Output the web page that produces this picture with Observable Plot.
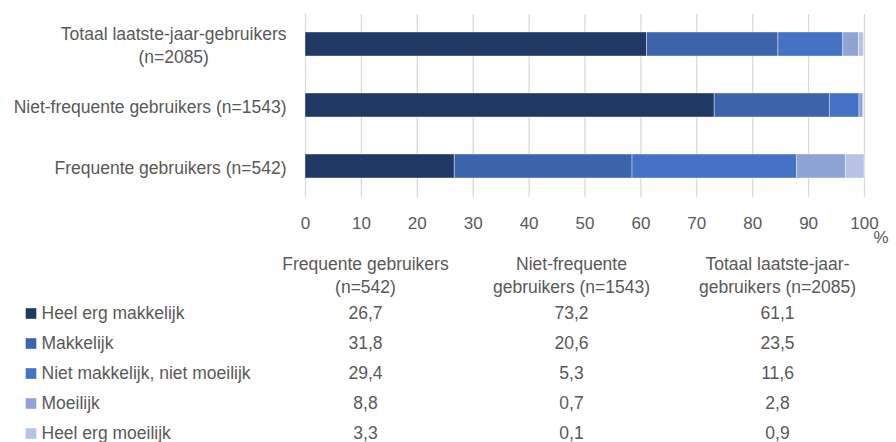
<!DOCTYPE html>
<html><head><meta charset="utf-8">
<script src="https://cdn.jsdelivr.net/npm/d3@7"></script>
<script src="https://cdn.jsdelivr.net/npm/@observablehq/plot@0.6"></script>
<style>
body{margin:0;background:#fff;font-family:"Liberation Sans",Arial,sans-serif;}
#chart svg,#table svg{display:block;}
</style></head><body>
<div id="chart"></div><div id="table"></div>
<script>
const categories = ["Heel erg makkelijk","Makkelijk","Niet makkelijk, niet moeilijk","Moeilijk","Heel erg moeilijk"];
const colors = ["#203864","#3b64ad","#4472c4","#8fa4d4","#b7c3e4"];
const chartLabels = ["Frequente gebruikers (n=542)","Niet-frequente gebruikers (n=1543)","Totaal laatste-jaar-gebruikers\n(n=2085)"];
const tableHeaders = ["Frequente gebruikers\n(n=542)","Niet-frequente\ngebruikers (n=1543)","Totaal laatste-jaar-\ngebruikers (n=2085)"];
const frequente = [26.7,31.8,29.4,8.8,3.3];
const nietFrequente = [73.2,20.6,5.3,0.7,0.1];
const totaal = [61.1,23.5,11.6,2.8,0.9];
const xTicks = [0,10,20,30,40,50,60,70,80,90,100];
const unitLabel = "%";

const series = [frequente, nietFrequente, totaal];
const rows = [];
series.forEach((vals, i) => vals.forEach((v, j) => rows.push({
  group: chartLabels[i], header: tableHeaders[i], category: categories[j], value: v
})));
const fmt = v => v.toFixed(1).replace(".", ",");
const textColor = "#595959";
const font = '"Liberation Sans", Arial, sans-serif';

const chart = Plot.plot({
  width: 896, height: 250,
  marginLeft: 305, marginRight: 32, marginTop: 14, marginBottom: 53,
  style: {fontFamily: font, fontSize: "17px", color: textColor, background: "#fff"},
  x: {domain: [0, 100]},
  y: {domain: [chartLabels[2], chartLabels[1], chartLabels[0]], paddingInner: 0.6, paddingOuter: 0.3},
  color: {domain: categories, range: colors},
  marks: [
    Plot.gridX(xTicks, {stroke: "#d9d9d9", strokeOpacity: 1, strokeWidth: 1.3}),
    Plot.barX(rows, Plot.stackX({x: "value", y: "group", fill: "category", order: categories,
      stroke: "#fff", strokeOpacity: 0.5, strokeWidth: 0.8})),
    Plot.axisX({ticks: xTicks, tickSize: 0, tickPadding: 19, fontSize: 17, label: null}),
    Plot.axisY({tickSize: 0, tickPadding: 19, fontSize: 17.5, label: null, lineHeight: 1.3}),
    Plot.text([unitLabel], {frameAnchor: "bottom-right", dx: 24, dy: 45, fontSize: 17, fill: textColor})
  ]
});
document.getElementById("chart").appendChild(chart);

// center multi-line y labels on each other (right edge kept)
chart.querySelectorAll('g[aria-label="y-axis tick label"] text').forEach(t => {
  const spans = t.querySelectorAll("tspan");
  if (spans.length > 1) {
    const w = Math.max(...Array.from(spans, s => s.getComputedTextLength()));
    t.setAttribute("text-anchor", "middle");
    spans.forEach(s => s.setAttribute("x", -w / 2));
  }
});

const table = Plot.plot({
  width: 896, height: 192,
  marginTop: 24, marginLeft: 0, marginRight: 0, marginBottom: 0,
  style: {fontFamily: font, fontSize: "17.5px", color: textColor, background: "#fff"},
  x: {type: "point", domain: tableHeaders, range: [364, 777], padding: 0, axis: null},
  y: {type: "point", domain: categories, range: [62, 183], padding: 0, axis: null},
  color: {domain: categories, range: colors},
  marks: [
    Plot.text(tableHeaders, {x: d => d, frameAnchor: "top", lineAnchor: "middle", lineHeight: 1.3, fontSize: 17.5}),
    Plot.dot(categories, {y: d => d, frameAnchor: "left", dx: 30.5, symbol: "square", r: 6, fill: d => d}),
    Plot.text(categories, {y: d => d, frameAnchor: "left", dx: 41, textAnchor: "start", fontSize: 17.5}),
    Plot.text(rows, {x: "header", y: "category", text: d => fmt(d.value), fontSize: 17.5})
  ]
});
document.getElementById("table").appendChild(table);
</script>
</body></html>
